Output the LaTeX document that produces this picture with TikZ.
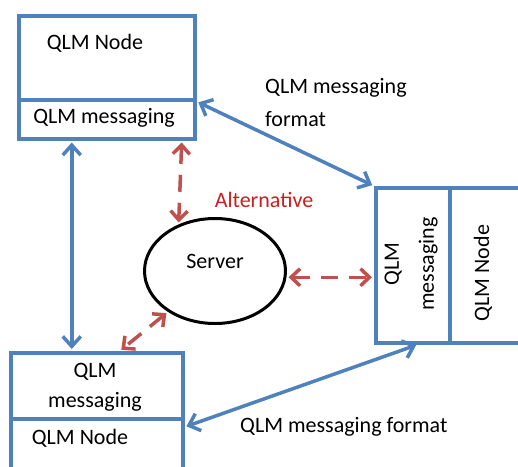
\documentclass[tikz,border=0pt]{standalone}
\usepackage{fontspec}
\setmainfont{Carlito}
\usetikzlibrary{arrows.meta,shapes.geometric}
\definecolor{qblue}{RGB}{79,129,189}
\definecolor{qred}{RGB}{192,80,77}
\definecolor{altred}{RGB}{204,30,30}
\begin{document}
\begin{tikzpicture}[x=1pt,y=-1pt,
  box/.style={draw=qblue,line width=3.5pt,rectangle,inner sep=0pt,anchor=north west},
  lbl/.style={font=\fontsize{22}{30}\selectfont,text=black,inner sep=0pt},
  bluearrow/.style={draw=qblue,line width=3.5pt,{Straight Barb[length=10pt,width=18pt]}-{Straight Barb[length=10pt,width=18pt]},shorten <=2pt,shorten >=2pt},
  redarrow/.style={draw=qred,line width=3.5pt,dash pattern=on 17pt off 11pt,{Straight Barb[length=9pt,width=17pt]}-{Straight Barb[length=9pt,width=17pt]},shorten <=2pt,shorten >=2pt}]
\useasboundingbox (0,0) rectangle (518,466);
\clip (0,0) rectangle (518,466);
% top-left
\node[box,minimum width=176pt,minimum height=84pt] (tn) at (17,14) {};
\node[box,minimum width=176pt,minimum height=39pt] (tm) at (17,98) {};
\node[lbl] (tnt) at (95,43) {QLM Node};
\node[lbl] (tmt) at (104,118) {QLM messaging};
% right
\node[box,minimum width=74pt,minimum height=155pt] (rm) at (374,186) {};
\node[box,minimum width=100pt,minimum height=155pt] (rn) at (448,186) {};
\node[lbl,rotate=90,align=center] (rmt) at (411,264) {QLM\\[5pt]messaging};
\node[lbl,rotate=90] (rnt) at (483,273) {QLM Node};
% bottom-left
\node[box,minimum width=172pt,minimum height=66pt] (bm) at (9,351) {};
\node[box,minimum width=172pt,minimum height=80pt] (bn) at (9,417) {};
\node[lbl,align=center] (bmt) at (95,387) {QLM\\messaging};
\node[lbl] (bnt) at (80,438) {QLM Node};
% server
\node[draw=black,line width=3pt,ellipse,minimum width=141pt,minimum height=105pt,inner sep=0pt] (srv) at (215,271) {};
\node[lbl] (srvt) at (215,261) {Server};
% labels
\node[lbl,align=left,anchor=west] (fmt1) at (265,103) {QLM messaging\\[3pt]format};
\node[lbl,anchor=west] (fmt2) at (240,427) {QLM messaging format};
\node[lbl,text=altred] (alt) at (264,200) {Alternative};
% blue connectors
\draw[bluearrow] ([xshift=-35pt]tm.south) -- ([xshift=-25pt]bm.north);
\draw[bluearrow] (tn.south east) -- (rm.north west);
\draw[bluearrow] ([xshift=44pt]rm.south west) -- ([yshift=-10pt]bn.north east);
% red connectors
\draw[redarrow] ([xshift=75pt]tm.south) -- (srv.128);
\draw[redarrow] (srv.-5) -- (srv.-5 -| rm.west);
\draw[redarrow] (srv.221) -- ([xshift=23pt]bm.north);
\end{tikzpicture}
\end{document}
